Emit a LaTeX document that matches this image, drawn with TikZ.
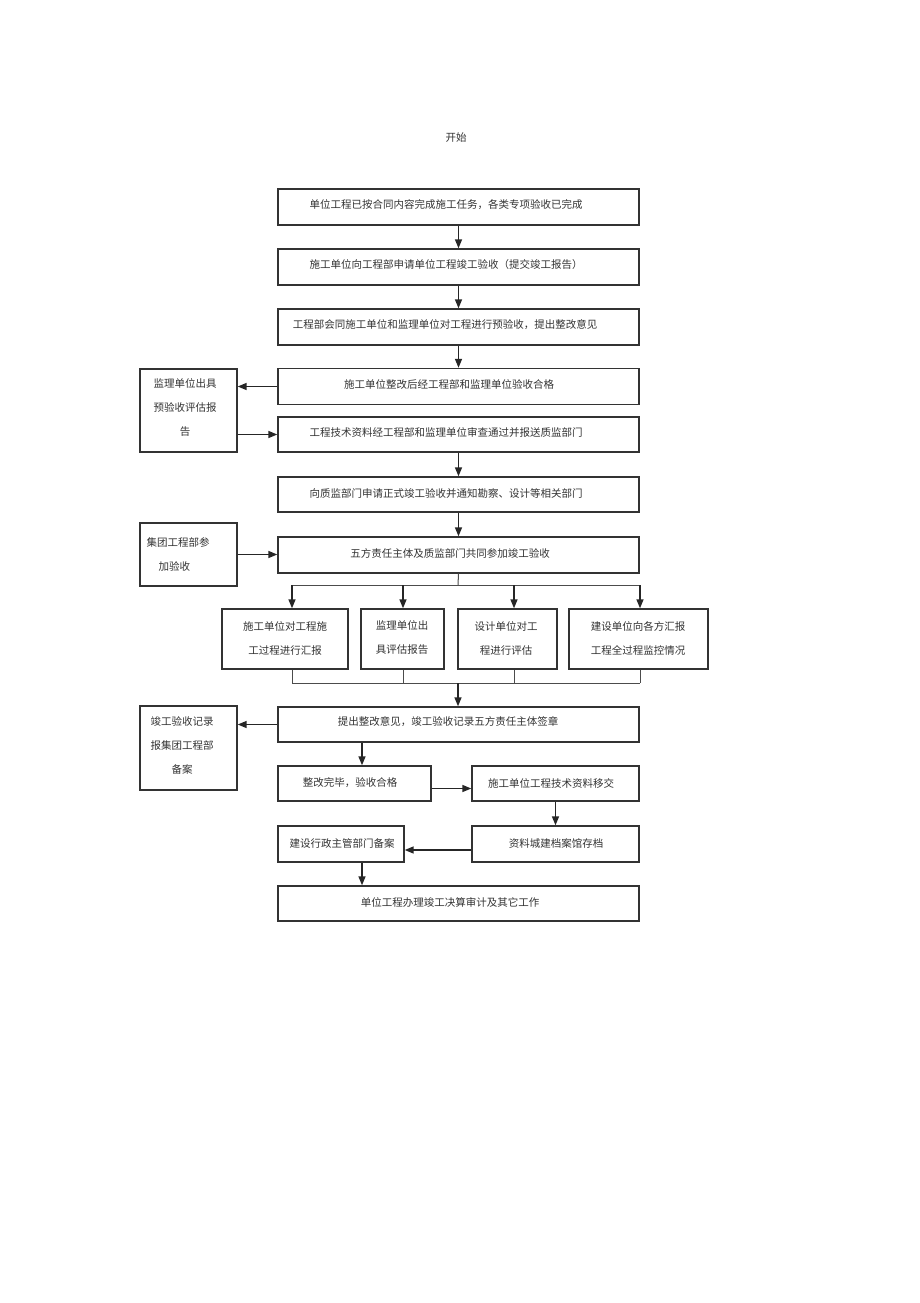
\documentclass[tikz,border=0pt]{standalone}
\usepackage{fontspec}
\setmainfont{Noto Sans CJK SC}
\usetikzlibrary{arrows.meta}
\begin{document}
\begin{tikzpicture}[x=1pt,y=-1pt,
 box/.style={draw=black!80, line width=1.4pt, inner sep=0pt},
 lbl/.style={font=\fontsize{10.5}{24}\selectfont, align=center, inner sep=0pt, text=black!80},
 arr/.style={line width=1.5pt, draw=black!85, -{Triangle[length=9pt,width=7pt]}},
 ln/.style={line width=1pt, draw=black!70}]
\useasboundingbox[fill=white] (0,0) rectangle (920,1303);

\node[lbl] (start) at (456,138) {开始};

% main column boxes
\node[box, minimum width=361pt, minimum height=36pt] (b1) at (458.5,207) {};
\node[lbl] at (446,205) {单位工程已按合同内容完成施工任务，各类专项验收已完成};
\node[box, minimum width=361pt, minimum height=36pt] (b2) at (458.5,267) {};
\node[lbl] at (446,265) {施工单位向工程部申请单位工程竣工验收（提交竣工报告）};
\node[box, minimum width=361pt, minimum height=36pt] (b3) at (458.5,327) {};
\node[lbl] at (445,325) {工程部会同施工单位和监理单位对工程进行预验收，提出整改意见};
\node[box, minimum width=361pt, minimum height=36pt] (b4) at (458.5,386.5) {};
\node[lbl] at (449,384) {施工单位整改后经工程部和监理单位验收合格};
\node[box, minimum width=361pt, minimum height=35pt] (b5) at (458.5,434.5) {};
\node[lbl] at (446,433) {工程技术资料经工程部和监理单位审查通过并报送质监部门};
\node[box, minimum width=361pt, minimum height=35pt] (b6) at (458.5,494.5) {};
\node[lbl] at (446,493) {向质监部门申请正式竣工验收并通知勘察、设计等相关部门};
\node[box, minimum width=361pt, minimum height=36pt] (b7) at (458.5,555) {};
\node[lbl] at (450,553) {五方责任主体及质监部门共同参加竣工验收};

% left boxes
\node[box, minimum width=97pt, minimum height=83pt] (l1) at (188.5,410.5) {};
\node[lbl] at (185,408) {监理单位出具\\预验收评估报\\告};
\node[box, minimum width=97pt, minimum height=63pt] (l2) at (188.5,554.5) {};
\node[lbl, align=left] at (178,554) {集团工程部参\\\hspace*{12pt}加验收};
\node[box, minimum width=97pt, minimum height=84pt] (l3) at (188.5,748) {};
\node[lbl] at (182,745) {竣工验收记录\\报集团工程部\\备案};

% row of four
\node[box, minimum width=126pt, minimum height=60pt] (r1) at (285,639) {};
\node[lbl] at (285,638) {施工单位对工程施\\工过程进行汇报};
\node[box, minimum width=83pt, minimum height=60pt] (r2) at (402.5,639) {};
\node[lbl] at (402,638) {监理单位出\\具评估报告};
\node[box, minimum width=99pt, minimum height=60pt] (r3) at (507.5,639) {};
\node[lbl] at (506,638) {设计单位对工\\程进行评估};
\node[box, minimum width=139pt, minimum height=60pt] (r4) at (638.5,639) {};
\node[lbl] at (638,638) {建设单位向各方汇报\\工程全过程监控情况};

% lower boxes
\node[box, minimum width=361pt, minimum height=35pt] (b8) at (458.5,724.5) {};
\node[lbl] at (448,722) {提出整改意见，竣工验收记录五方责任主体签章};
\node[box, minimum width=153pt, minimum height=35pt] (b9) at (354.5,783.5) {};
\node[lbl] at (350,783) {整改完毕，验收合格};
\node[box, minimum width=167pt, minimum height=35pt] (b10) at (555.5,783.5) {};
\node[lbl] at (551,783) {施工单位工程技术资料移交};
\node[box, minimum width=167pt, minimum height=36pt] (b11) at (555.5,844) {};
\node[lbl] at (556,843) {资料城建档案馆存档};
\node[box, minimum width=126pt, minimum height=36pt] (b12) at (341,844) {};
\node[lbl] at (342,843) {建设行政主管部门备案};
\node[box, minimum width=361pt, minimum height=35pt] (b13) at (458.5,903.5) {};
\node[lbl] at (450,902) {单位工程办理竣工决算审计及其它工作};

% coordinates for buses
\coordinate (t0) at (458,585);
\coordinate (t1) at (292,585);
\coordinate (t2) at (403,585);
\coordinate (t3) at (514,585);
\coordinate (t4) at (640,585);
\coordinate (u0) at (458,683);
\coordinate (u1) at (292,683);
\coordinate (u2) at (403,683);
\coordinate (u3) at (514,683);
\coordinate (u4) at (640,683);

% connectors main column
\draw[arr] (b1) -- (b2);
\draw[arr] (b2) -- (b3);
\draw[arr] (b3) -- (b4);
\draw[arr] (b4.west) -- (l1.east |- b4.west);
\draw[arr] (l1.east |- b5.west) -- (b5.west);
\draw[arr] (b5) -- (b6);
\draw[arr] (b6) -- (b7);
\draw[arr] (l2.east) -- (b7.west |- l2.east);

% split to row
\draw[ln] (b7.south) -- (t0);
\draw[ln] (t1) -- (t4);
\draw[arr] (t1) -- (t1 |- r1.north);
\draw[arr] (t2) -- (t2 |- r2.north);
\draw[arr] (t3) -- (t3 |- r3.north);
\draw[arr] (t4) -- (t4 |- r4.north);
% merge
\draw[ln] (u1 |- r1.south) -- (u1);
\draw[ln] (u2 |- r2.south) -- (u2);
\draw[ln] (u3 |- r3.south) -- (u3);
\draw[ln] (u4 |- r4.south) -- (u4);
\draw[ln] (u1) -- (u4);
\draw[arr] (u0) -- (u0 |- b8.north);

% lower part
\draw[arr] (b8.west) -- (l3.east |- b8.west);
\coordinate (c1) at (362,742);
\draw[arr] (b8.south -| c1) -- (b9.north -| c1);
\draw[arr] ([yshift=-5pt]b9.east) -- ([yshift=-5pt]b10.west);
\draw[arr] (b10.south) -- (b11.north);
\draw[arr] ([yshift=-6pt]b11.west) -- ([yshift=-6pt]b12.east);
\draw[arr] (b12.south -| c1) -- (b13.north -| c1);
\end{tikzpicture}
\end{document}
